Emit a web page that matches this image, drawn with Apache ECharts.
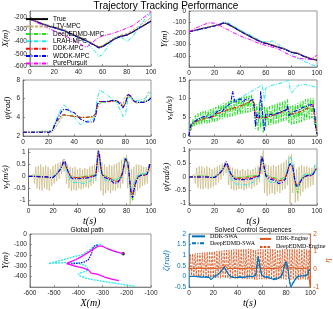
<!DOCTYPE html>
<html><head><meta charset="utf-8">
<script src="https://cdn.jsdelivr.net/npm/echarts@6/dist/echarts.min.js"></script>
<style>html,body{margin:0;padding:0;background:#fff}#c{width:333px;height:309px}</style>
</head><body><div id="c"></div>
<script>
// ---------------- DATA ----------------
const T_POS = [0,5,10,15,17,20,25,27,30,35,40,45,47,50,55,57,60,65,70,75,80,85,90,95,100];
const X_TRUE = [-215,-235,-255,-272,-278,-285,-300,-306,-318,-340,-362,-385,-395,-410,-438,-448,-440,-410,-378,-358,-347,-322,-292,-262,-233];
const X_LTV  = [-215,-232,-250,-265,-270,-276,-290,-296,-308,-332,-355,-378,-388,-403,-432,-442,-432,-400,-368,-348,-335,-305,-272,-238,-203];
const X_DEEP = [-215,-236,-255,-271,-277,-284,-299,-305,-317,-341,-363,-384,-394,-409,-436,-446,-438,-407,-375,-356,-345,-320,-290,-260,-231];
const X_LRAH = [-215,-236,-256,-273,-279,-287,-302,-308,-320,-345,-366,-392,-410,-440,-495,-522,-505,-430,-370,-360,-400,-360,-285,-215,-162];
const X_DDK  = [-215,-235,-255,-272,-278,-285,-300,-306,-318,-342,-364,-386,-396,-410,-437,-447,-439,-408,-376,-357,-346,-321,-291,-261,-232];
const X_WDDK = [-215,-236,-256,-273,-279,-287,-302,-308,-320,-345,-366,-388,-398,-413,-440,-452,-443,-412,-376,-356,-346,-321,-290,-261,-231];
const X_PP   = [-215,-240,-265,-290,-300,-312,-335,-345,-358,-385,-412,-440,-447,-420,-380,-366,-355,-342,-328,-310,-290,-270,-235,-195,-155];

const Y_TRUE = [-185,-172,-158,-145,-140,-132,-115,-107,-115,-145,-178,-210,-222,-240,-268,-278,-287,-305,-322,-340,-368,-378,-405,-425,-438];
const Y_LTV  = [-185,-171,-157,-143,-137,-129,-112,-105,-110,-140,-172,-204,-216,-234,-262,-272,-282,-300,-318,-336,-362,-375,-400,-420,-432];
const Y_DEEP = [-185,-172,-158,-145,-139,-132,-115,-106,-115,-145,-178,-210,-222,-240,-268,-278,-287,-305,-322,-340,-368,-378,-405,-425,-438];
const Y_LRAH = [-186,-173,-160,-147,-141,-132,-112,-98,-100,-135,-170,-200,-208,-228,-262,-278,-275,-268,-300,-335,-380,-420,-450,-475,-495];
const Y_DDK  = [-185,-172,-159,-146,-140,-133,-116,-107,-116,-146,-179,-211,-223,-241,-269,-279,-288,-306,-323,-341,-369,-379,-406,-426,-439];
const Y_WDDK = [-186,-173,-160,-147,-141,-134,-117,-108,-114,-146,-180,-212,-224,-242,-270,-280,-290,-308,-325,-342,-370,-380,-407,-428,-440];
const Y_PP   = [-185,-155,-128,-108,-105,-110,-135,-150,-165,-195,-222,-245,-252,-268,-290,-296,-308,-322,-340,-372,-400,-420,-428,-432,-395];

// heading psi
const T_PSI = [0,5,10,15,18,20,21,23,26,30,32,35,40,45,50,55,56,57,58,60,65,70,73,76,78,80,82,84,87,90,95,98,100];
const PSI_WDDK = [2.4,2.4,2.4,2.4,2.4,2.35,2.3,2.6,3.6,4.6,4.9,4.8,4.5,3.8,3.5,3.5,3.6,4.3,5.4,5.7,5.7,5.8,5.8,5.4,5.0,5.5,6.5,6.3,5.7,5.6,5.6,5.8,6.1];
const PSI_DDK  = [2.4,2.4,2.4,2.4,2.45,2.4,2.3,2.6,3.5,4.2,4.3,4.2,4.1,4.0,4.0,4.1,4.1,4.5,5.4,5.7,5.7,5.7,5.8,5.6,5.1,5.5,6.4,6.3,5.7,5.6,5.6,5.8,6.1];
const PSI_DEEP = [2.4,2.4,2.4,2.45,2.5,2.4,2.35,2.6,3.4,4.1,4.25,4.2,4.1,4.0,4.0,4.1,4.1,4.4,5.3,5.6,5.7,5.8,5.7,5.5,5.2,5.4,6.2,6.2,5.7,5.6,5.7,5.9,6.2];
const PSI_LTV  = [2.4,2.45,2.45,2.5,2.5,2.5,2.4,2.4,3.0,3.9,4.2,4.2,4.1,4.0,4.0,4.0,4.1,4.2,4.9,5.5,5.6,5.7,5.7,5.6,5.3,6.3,6.5,6.0,5.6,5.5,5.8,6.7,6.5];
const PSI_LRAH = [2.4,2.4,2.45,2.5,2.5,2.5,2.4,2.7,3.8,5.0,5.3,5.0,4.0,3.2,3.6,3.8,4.1,4.9,6.0,6.9,6.5,5.9,5.6,4.8,4.1,4.3,6.0,6.2,5.8,5.8,6.0,6.3,6.7];

// longitudinal velocity vx
const T_VX_DDK = [0,1,2,5,10,15,20,22,25,30,35,40,45,48,50,51,52,55,60,65,70,75,77,78,80,85,90,95,97,98,100];
const VX_DDK = [0,2.0,3.0,3.8,4.5,5.0,5.3,6.0,6.3,7.0,7.5,8.0,8.8,9.3,9.5,8.5,5.0,4.8,4.9,5.5,6.0,6.8,7.5,6.5,5.8,6.3,7.0,7.8,8.5,5.0,0.5];
const VX_LTV = [0,1.5,2.5,3.5,4.3,4.8,5.2,5.8,6.2,6.8,7.3,7.8,8.6,9.2,9.6,9.3,8.0,5.0,4.9,5.5,6.0,6.7,7.3,6.8,5.9,6.2,6.9,7.6,8.3,6.0,1.0];
const T_VX_WDDK = [0,1,2,4,6,8,10,12,14,16,18,20,22,24,26,28,30,32,33,34,36,38,40,42,44,46,47,48,50,51,52,53,54,55,56,57,58,59,60,62,64,66,68,70,72,74,76,77,78,80,82,84,86,88,90,92,94,96,97,98,99,100];
const VX_WDDK = [0,2.5,3.2,3.8,4.3,4.6,5.0,5.2,5.3,4.8,5.5,5.8,6.5,6.8,6.6,7.5,8.0,8.6,9.5,12.0,9.0,9.5,10.0,9.0,9.8,10.0,10.5,9.5,9.8,7.5,2.5,6.0,5.5,4.8,12.0,8.0,3.5,1.5,6.0,5.5,5.8,5.5,6.0,6.2,6.5,6.8,7.0,8.2,5.5,6.0,6.5,6.8,7.0,7.5,7.8,8.0,8.3,8.4,8.5,7.0,2.0,0.5];
const T_VX_LRAH = [0,1,2,5,10,15,20,25,30,35,40,45,50,55,57,58,59,60,62,65,70,75,78,79,80,85,90,95,100];
const VX_LRAH = [0,2.5,3.5,4.0,4.8,5.5,6.3,7.2,8.2,9.3,10.2,11.2,12.2,13.2,13.8,12.0,9.5,12.8,13.2,13.6,14.0,14.5,15.0,12.5,11.5,13.5,13.8,13.5,12.9];
// DeepEDMD vx, one value per second (t = 0..100)
const VX_DEEP = [0,3.5,1.5,4.5,2.5,5.5,2.8,6.0,3.0,6.3,
  3.0,6.6,3.3,6.8,3.4,7.0,3.5,7.2,3.6,7.5,
  3.8,7.8,4.0,8.2,4.3,8.5,4.5,8.8,4.8,9.0,
  5.0,9.3,5.2,9.5,5.3,9.8,5.5,10.0,5.6,10.2,
  5.7,10.3,6.0,10.5,6.2,10.6,6.3,10.8,6.5,11.0,
  6.8,9.0,2.0,8.5,1.5,9.0,2.0,9.5,1.0,8.0,
  2.5,7.8,2.8,8.0,3.0,8.2,3.2,8.5,3.3,8.8,
  3.5,9.0,3.8,9.2,4.0,9.5,4.2,9.8,3.5,8.0,
  3.0,8.3,3.2,8.5,3.4,8.8,3.6,9.2,3.8,9.5,
  4.0,9.8,4.3,10.0,4.5,10.2,4.8,10.2,3.0,5.0,
  0.5];

// lateral velocity vy and yaw rate
const T_LAT = [0,5,10,15,17,18,20,23,26,28,29,30,32,34,36,40,45,50,53,55,56,57,58,59,60,62,65,68,70,73,75,76,77,78,79,80,81,82,83,84,85,86,88,90,92,95,97,98,99,100];
const VY_WDDK = [0,0,-0.02,-0.02,-0.05,-0.12,-0.05,0.1,0.3,0.55,0.7,0.6,0.25,0,-0.1,-0.1,-0.08,-0.05,0,0.05,0.6,1.1,0.9,0.4,0.1,-0.05,-0.1,-0.2,-0.3,-0.25,-0.1,0,0.2,0.5,0.75,0.8,0.6,0.2,-0.4,-0.8,-0.9,-0.6,-0.2,0,0.05,0.05,0.1,0.3,0.5,0.45];
const VY_DDK  = [0,0,-0.02,-0.02,-0.04,-0.1,-0.05,0.08,0.28,0.5,0.62,0.55,0.25,0.02,-0.05,-0.05,-0.03,0,0.02,0.05,0.55,0.95,0.85,0.4,0.1,0,-0.05,-0.12,-0.2,-0.2,-0.08,0,0.2,0.45,0.7,0.75,0.55,0.2,-0.35,-0.7,-0.8,-0.5,-0.15,0,0.05,0.05,0.1,0.3,0.5,0.5];
const VY_DEEP = [0,0.02,0,-0.03,-0.05,-0.1,-0.02,0.1,0.3,0.5,0.6,0.55,0.2,0.05,-0.02,-0.05,0,0.02,0.05,0.1,0.55,0.95,0.8,0.35,0.1,0.05,-0.05,-0.1,-0.15,-0.1,0,0.05,0.25,0.45,0.7,0.8,0.5,0.1,-0.45,-0.85,-1.0,-0.55,-0.15,0.05,0.1,0.1,0.15,0.35,0.5,0.45];
const VY_LRAH = [0,0,0,-0.02,-0.05,-0.1,0,0.15,0.35,0.55,0.62,0.5,0.1,-0.15,-0.25,-0.25,-0.3,-0.2,-0.1,0,0.5,0.9,0.7,0.3,0,-0.15,-0.2,-0.15,-0.15,-0.1,-0.05,0.05,0.25,0.55,0.7,0.7,0.5,0.1,-0.3,-0.55,-0.5,-0.3,-0.05,0.1,0.1,0.1,0.15,0.3,0.45,0.5];
const VY_LTV = [0,0,0.02,-0.05,0.1,-0.3,0.4,-0.5,0.45,-0.55,
  0.5,-0.6,0.4,-0.5,0.45,-0.55,0.4,-0.6,0.3,-0.4,
  0.45,-0.3,0.5,-0.2,0.55,-0.1,0.6,0.1,0.7,0.2,
  0.65,-0.3,0.5,-0.5,0.4,-0.6,0.35,-0.55,0.4,-0.6,
  0.3,-0.5,0.35,-0.55,0.3,-0.5,0.35,-0.45,0.3,-0.5,
  0.4,-0.4,0.45,-0.3,0.5,-0.2,0.9,0.2,1.0,-0.6,
  0.6,-0.8,0.5,-0.7,0.4,-0.6,0.5,-0.7,0.45,-0.6,
  0.5,-0.6,0.55,-0.5,0.6,-0.5,0.7,-0.3,0.8,0.1,
  0.9,-0.5,0.6,-1.2,0.3,-1.0,0.4,-0.8,0.5,-0.6,
  0.5,-0.5,0.45,-0.4,0.4,-0.35,0.4,-0.3,0.5,0.2,
  0.5];
const R_WDDK = [0,0,0,0,-0.02,-0.05,-0.02,0.1,0.25,0.45,0.58,0.5,0.2,0,-0.08,-0.1,-0.1,-0.05,0,0.05,0.5,0.78,0.6,0.3,0.05,-0.05,-0.1,-0.15,-0.25,-0.2,-0.1,0,0.2,0.4,0.5,0.5,0.4,0.1,-0.2,-0.35,-0.4,-0.3,-0.1,0,0.05,0.05,0.1,0.2,0.3,0.3];
const R_DDK  = [0,0,0,0,-0.02,-0.04,-0.02,0.08,0.22,0.4,0.52,0.45,0.2,0.02,-0.04,-0.05,-0.04,0,0.02,0.05,0.45,0.7,0.55,0.3,0.05,0,-0.05,-0.1,-0.15,-0.12,-0.05,0.02,0.2,0.38,0.48,0.48,0.38,0.1,-0.18,-0.32,-0.36,-0.25,-0.08,0,0.05,0.05,0.1,0.2,0.3,0.3];
const R_DEEP = [0,0.02,0.05,0.02,0,-0.03,0,0.1,0.25,0.42,0.52,0.45,0.18,0.05,0,-0.02,0.02,0.05,0.05,0.08,0.45,0.72,0.55,0.28,0.08,0.05,0,-0.05,-0.1,-0.05,0.02,0.05,0.22,0.4,0.5,0.52,0.35,0.05,-0.3,-0.5,-0.6,-0.3,-0.05,0.05,0.1,0.1,0.12,0.22,0.3,0.32];
const R_LRAH = [0,0,0,0,-0.02,-0.05,0,0.12,0.3,0.45,0.5,0.4,0.05,-0.15,-0.25,-0.28,-0.3,-0.2,-0.1,0,0.45,0.75,0.55,0.25,0,-0.15,-0.22,-0.2,-0.15,-0.1,-0.05,0.05,0.3,0.6,0.75,0.8,0.6,0.2,-0.15,-0.3,-0.3,-0.2,0,0.1,0.1,0.1,0.15,0.35,0.5,0.55];
const R_LTV = [0,0,0.02,-0.05,0.1,-0.25,0.35,-0.4,0.4,-0.45,
  0.4,-0.45,0.35,-0.4,0.4,-0.45,0.35,-0.4,0.3,-0.35,
  0.35,-0.3,0.4,-0.2,0.45,-0.1,0.5,0.05,0.55,0.15,
  0.5,-0.3,0.4,-0.45,0.35,-0.5,0.3,-0.5,0.3,-0.45,
  0.25,-0.45,0.3,-0.5,0.25,-0.45,0.3,-0.4,0.25,-0.45,
  0.3,-0.35,0.35,-0.3,0.4,-0.2,0.8,0.1,1.0,-0.6,
  0.5,-0.7,0.45,-0.65,0.4,-0.6,0.45,-0.65,0.4,-0.55,
  0.45,-0.6,0.5,-0.5,0.55,-0.45,0.65,-0.3,0.8,-1.0,
  0.85,-0.6,0.5,-0.95,0.3,-0.9,0.4,-0.7,0.45,-0.55,
  0.4,-0.45,0.4,-0.4,0.35,-0.35,0.35,-0.3,0.45,0.2,
  0.4];

// global path panel
const GP_BLUE_X = [-320,-335,-340,-345,-352,-360,-375,-395,-420,-445];
const GP_BLUE_Y = [-105,-115,-140,-180,-215,-245,-262,-272,-280,-285];

// control sequences
const SWA_DDK  = [0,0,-0.03,-0.03,-0.05,-0.15,-0.05,0.05,0.2,0.35,0.45,0.38,0.15,0,-0.05,-0.05,-0.05,0,0,0.05,0.5,0.95,0.7,0.3,0.05,-0.02,-0.05,-0.1,-0.15,-0.1,-0.05,0,0.1,0.35,0.6,0.7,0.55,0.2,-0.3,-0.5,-0.5,-0.3,-0.1,0,0.02,0.02,0.05,0.15,0.3,0.3];
const SWA_DEEP = [0,0.02,0,-0.02,-0.03,-0.1,0,0.08,0.22,0.38,0.42,0.35,0.12,0.02,-0.02,-0.02,0,0.02,0.03,0.08,0.45,0.85,0.65,0.25,0.08,0.02,-0.02,-0.05,-0.1,-0.05,0,0.05,0.15,0.35,0.55,0.65,0.45,0.1,-0.25,-0.45,-0.45,-0.25,-0.05,0.03,0.05,0.05,0.08,0.18,0.3,0.32];
const T_ENG_DDK = [0,3,8,12,18,22,28,30,32,38,45,50,55,57,59,62,70,76,79,81,84,90,95,98,99,100];
const ENG_DDK = [0.05,0.05,0.07,0.05,0.08,0.05,0.1,0.2,0.05,0.06,0.05,0.07,0.05,0.25,0.05,0.06,0.05,0.08,0.3,0.05,0.1,0.05,0.06,0.08,-0.5,-1.0];
const ENG_DEEP = [0.0,0.85,-0.35,0.88,-0.4,0.9,-0.38,0.92,-0.42,0.93,
  -0.4,0.95,-0.45,0.96,-0.43,0.98,-0.45,1.0,-0.47,1.0,
  -0.45,1.02,-0.48,1.03,-0.46,1.05,-0.5,1.05,-0.48,1.07,
  -0.5,1.08,-0.5,1.1,-0.52,1.1,-0.5,1.12,-0.52,1.12,
  -0.53,1.13,-0.5,1.15,-0.55,1.15,-0.52,1.15,-0.55,1.16,
  -0.54,1.15,-0.55,1.12,-0.6,1.1,-0.58,1.12,-0.55,1.13,
  -0.56,1.14,-0.55,1.15,-0.57,1.15,-0.55,1.16,-0.56,1.15,
  -0.58,1.12,-0.6,1.1,-0.58,1.12,-0.56,1.13,-0.55,1.14,
  -0.57,1.15,-0.56,1.15,-0.58,1.16,-0.57,1.15,-0.58,1.14,
  -0.6,1.15,-0.58,1.14,-0.56,1.15,-0.57,1.13,-0.6,1.1,
  -1.0];

const T_TICKS = [0,20,40,60,80,100];
const NAMES = ['True','LTV-MPC','DeepEDMD-MPC','LRAH-MPC','DDK-MPC','WDDK-MPC','PurePursuit'];

// ---------------- STYLE ----------------
const C = {True:'#000000', LTV:'#c2b071', DEEP:'#22e022', LRAH:'#22e8e8', DDK:'#ff0000', WDDK:'#0000ff', PP:'#ff00ff', SWA:'#0072BD', ENG:'#D95319'};
const DASHDOT = [4,1.5,1,1.5];
const DASH = [3,1.5];
const SANS = 'Liberation Sans';
const SERIF = 'Liberation Serif';
const idx = a => a.map((_, i) => i);

const G = [[23,11,128,55],[189,11,128,56],[23,80,128,56],[189,80,128,56],[23,149,128,56],[189,149,128,56],[23,234,128,57],[189,234,127,57]];

function axisBase(gi, min, max, ticks, extra) {
  const col = (extra && extra.col) || '#555';
  const lcol = (extra && extra.lcol) || '#262626';
  return Object.assign({
    type:'value', gridIndex:gi, min, max,
    axisLine:{show:true, onZero:false, lineStyle:{color:col, width:0.6}},
    axisTick:{show:true, inside:true, length:2, lineStyle:{color:col, width:0.6}, customValues:ticks},
    axisLabel:{fontSize:6.5, color:lcol, fontFamily:SANS, margin:3, customValues:ticks},
    splitLine:{show:false}
  }, extra ? extra.opt : {});
}
const mathRich = (size, color) => ({
  i:{fontFamily:SERIF, fontStyle:'italic', fontSize:size, color:color||'#000'},
  s:{fontFamily:SERIF, fontStyle:'italic', fontSize:size*0.7, color:color||'#000', padding:[size*0.45,0,0,0]}
});
function yName(name, gap, size, color) {
  return {name, nameLocation:'middle', nameGap:gap, nameRotate:90,
    nameTextStyle:{fontFamily:SERIF, fontStyle:'italic', fontSize:size||8.5, color:color||'#000', rich:mathRich(size||8.5, color)}};
}
function xName(name) {
  return {name, nameLocation:'middle', nameGap:8, nameTextStyle:{fontFamily:SERIF, fontStyle:'italic', fontSize:10, color:'#000'}};
}

const xAxis = [];
for (let g = 0; g < 8; g++) {
  if (g === 6) xAxis.push(axisBase(6, -600, -100, [-600,-500,-400,-300,-200,-100], {opt:xName('X(m)')}));
  else if (g === 4 || g === 5 || g === 7) xAxis.push(axisBase(g, 0, 100, T_TICKS, {opt:xName('t(s)')}));
  else xAxis.push(axisBase(g, 0, 100, T_TICKS));
}
const yAxis = [
  axisBase(0, -600, -150, [-600,-500,-400,-300,-200], {opt:yName('X(m)', 13)}),
  axisBase(1, -500, 0, [-400,-300,-200,-100,0], {opt:yName('Y(m)', 13)}),
  axisBase(2, 2, 8, [2,4,6,8], {opt:yName('ψ(rad)', 10)}),
  axisBase(3, 0, 15, [0,5,10,15], {opt:yName('{i|v}{s|x}{i|(m/s)}', 11)}),
  axisBase(4, -1.2, 1.15, [-1,-0.5,0,0.5,1], {opt:yName('{i|v}{s|y}{i|(m/s)}', 15)}),
  axisBase(5, -1.05, 1.05, [-1,-0.5,0,0.5,1], {opt:yName('ψ̇(rad/s)', 14)}),
  axisBase(6, -500, 0, [-400,-300,-200,-100,0], {opt:yName('Y(m)', 13)}),
  axisBase(7, -0.5, 2, [-0.5,0,0.5,1,1.5,2], {col:C.SWA, lcol:C.SWA, opt:yName('ζ(rad)', 13, 8.5, C.SWA)}),
  axisBase(7, -1, 2, [-1,0,1,2], {col:C.ENG, lcol:C.ENG, opt:Object.assign({position:'right'}, yName('η', 9, 9, C.ENG))})
];

function ln(name, xi, yi, xs, ys, color, type, width, extra) {
  return Object.assign({
    type:'line', name, xAxisIndex:xi, yAxisIndex:yi,
    data: xs.map((x, i) => [x, ys[i]]),
    symbol:'none', showSymbol:false, silent:true, animation:false,
    lineStyle:{color, type, width}, itemStyle:{color}
  }, extra || {});
}

const series = [];
// panel 1 & 2
[[0, X_TRUE, X_LTV, X_DEEP, X_LRAH, X_DDK, X_WDDK, X_PP],[1, Y_TRUE, Y_LTV, Y_DEEP, Y_LRAH, Y_DDK, Y_WDDK, Y_PP]].forEach(r => {
  const g = r[0];
  series.push(ln(NAMES[0], g, g, T_POS, r[1], C.True, 'solid', 1.2));
  series.push(ln(NAMES[1], g, g, T_POS, r[2], C.LTV, DASH, 1));
  series.push(ln(NAMES[2], g, g, T_POS, r[3], C.DEEP, DASHDOT, 1));
  series.push(ln(NAMES[3], g, g, T_POS, r[4], C.LRAH, DASHDOT, 1));
  series.push(ln(NAMES[4], g, g, T_POS, r[5], C.DDK, DASHDOT, 1));
  series.push(ln(NAMES[5], g, g, T_POS, r[6], C.WDDK, DASHDOT, 1.1));
  series.push(ln(NAMES[6], g, g, T_POS, r[7], C.PP, DASHDOT, 1));
});
// panel 3 psi
series.push(ln('p3-ltv', 2, 2, T_PSI, PSI_LTV, C.LTV, DASH, 1));
series.push(ln('p3-deep', 2, 2, T_PSI, PSI_DEEP, C.DEEP, DASHDOT, 1));
series.push(ln('p3-lrah', 2, 2, T_PSI, PSI_LRAH, C.LRAH, DASHDOT, 1));
series.push(ln('p3-ddk', 2, 2, T_PSI, PSI_DDK, C.DDK, DASHDOT, 1));
series.push(ln('p3-wddk', 2, 2, T_PSI, PSI_WDDK, C.WDDK, DASHDOT, 1.1));
// panel 4 vx
series.push(ln('p4-ltv', 3, 3, T_VX_DDK, VX_LTV, C.LTV, DASH, 1));
series.push(ln('p4-lrah', 3, 3, T_VX_LRAH, VX_LRAH, C.LRAH, DASHDOT, 1));
series.push(ln('p4-deep', 3, 3, idx(VX_DEEP), VX_DEEP, C.DEEP, DASHDOT, 1));
series.push(ln('p4-ddk', 3, 3, T_VX_DDK, VX_DDK, C.DDK, DASHDOT, 1));
series.push(ln('p4-wddk', 3, 3, T_VX_WDDK, VX_WDDK, C.WDDK, DASHDOT, 1.1));
// panel 5 vy
series.push(ln('p5-ltv', 4, 4, idx(VY_LTV), VY_LTV, C.LTV, 'solid', 0.6));
series.push(ln('p5-deep', 4, 4, T_LAT, VY_DEEP, C.DEEP, DASHDOT, 1));
series.push(ln('p5-lrah', 4, 4, T_LAT, VY_LRAH, C.LRAH, DASHDOT, 1));
series.push(ln('p5-ddk', 4, 4, T_LAT, VY_DDK, C.DDK, DASHDOT, 1));
series.push(ln('p5-wddk', 4, 4, T_LAT, VY_WDDK, C.WDDK, DASHDOT, 1.1));
// panel 6 yaw rate
series.push(ln('p6-ltv', 5, 5, idx(R_LTV), R_LTV, C.LTV, 'solid', 0.6));
series.push(ln('p6-deep', 5, 5, T_LAT, R_DEEP, C.DEEP, DASHDOT, 1));
series.push(ln('p6-lrah', 5, 5, T_LAT, R_LRAH, C.LRAH, DASHDOT, 1));
series.push(ln('p6-ddk', 5, 5, T_LAT, R_DDK, C.DDK, DASHDOT, 1));
series.push(ln('p6-wddk', 5, 5, T_LAT, R_WDDK, C.WDDK, DASHDOT, 1.1));
// panel 7 global path
series.push(ln('gp-lrah', 6, 6, X_LRAH, Y_LRAH, C.LRAH, [2,1], 1.3, {smooth:0.3}));
series.push(ln('gp-blue', 6, 6, GP_BLUE_X, GP_BLUE_Y, C.WDDK, [1.5,1], 1.2, {smooth:0.3}));
series.push(ln('gp-true', 6, 6, X_TRUE, Y_TRUE, C.PP, 'solid', 1.3));
series.push({type:'scatter', name:'gp-start', xAxisIndex:6, yAxisIndex:6, data:[[X_TRUE[0], Y_TRUE[0]]], symbolSize:3.5, itemStyle:{color:'#000'}, silent:true});
// panel 8 control sequences
series.push(ln('DeepEDMD-Engine', 7, 8, idx(ENG_DEEP), ENG_DEEP, C.ENG, [2.5,1.2], 0.8));
series.push(ln('DDK-Engine', 7, 8, T_ENG_DDK, ENG_DDK, C.ENG, 'solid', 1));
series.push(ln('DeepEDMD-SWA', 7, 7, T_LAT, SWA_DEEP, C.SWA, DASHDOT, 1));
series.push(ln('DDK-SWA', 7, 7, T_LAT, SWA_DDK, C.SWA, 'solid', 1.1));

const LEG_ICON = {opacity:0};
const option = {
  animation:false,
  backgroundColor:'#fff',
  grid: G.map(g => ({left:g[0], top:g[1], width:g[2], height:g[3], show:true, borderColor:'#555', borderWidth:0.6, backgroundColor:'#fff', containLabel:false})),
  xAxis, yAxis, series,
  legend:[
    {data:NAMES, orient:'vertical', left:25, top:15.5, itemWidth:22, itemHeight:4, itemGap:0.2, selectedMode:false, itemStyle:LEG_ICON, padding:0,
     textStyle:{fontSize:6.5, fontFamily:SANS, color:'#000', lineHeight:7.2}},
    {data:['DDK-SWA','DeepEDMD-SWA'], orient:'vertical', left:191, top:233, itemWidth:13, itemHeight:4, itemGap:0.2, selectedMode:false, itemStyle:LEG_ICON, padding:0,
     textStyle:{fontSize:6, fontFamily:SERIF, color:'#000', lineHeight:6.7}},
    {data:['DDK-Engine','DeepEDMD-Engine'], orient:'vertical', left:259, top:235.5, itemWidth:11, itemHeight:4, itemGap:1.2, selectedMode:false, itemStyle:LEG_ICON, padding:0,
     textStyle:{fontSize:6, fontFamily:SERIF, color:'#000', lineHeight:6.8}}
  ],
  graphic:[
    {type:'text', x:166, y:6, style:{text:'Trajectory Tracking Performance', fontSize:10, fontFamily:SANS, fill:'#000', align:'center', verticalAlign:'middle'}},
    {type:'text', x:87, y:230, style:{text:'Global path', fontSize:6.5, fontFamily:SANS, fill:'#000', align:'center', verticalAlign:'middle'}},
    {type:'text', x:253, y:230, style:{text:'Solved Control Sequences', fontSize:6.5, fontFamily:SANS, fill:'#000', align:'center', verticalAlign:'middle'}}
  ]
};
const chart = echarts.init(document.getElementById('c'), null, {renderer:'canvas'});
chart.setOption(option);
</script></body></html>
